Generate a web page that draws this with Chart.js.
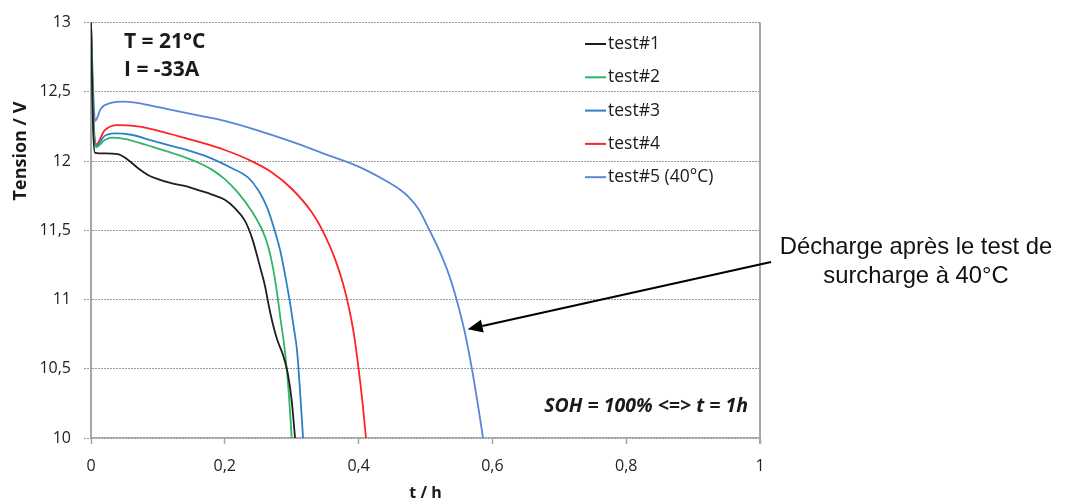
<!DOCTYPE html>
<html>
<head>
<meta charset="utf-8">
<script src="https://cdn.jsdelivr.net/npm/chart.js@4.4.0/dist/chart.umd.min.js"></script>
<style>
  html, body { margin: 0; padding: 0; background: #fff; }
</style>
</head>
<body>
<canvas id="chart" width="1070" height="504"></canvas>
<script>
// Discharge curves, t in hours, voltage in V
const t1 = [0, 0.003, 0.006, 0.02, 0.04, 0.055, 0.07, 0.085, 0.1, 0.12, 0.14, 0.16, 0.18, 0.2, 0.215, 0.23, 0.241, 0.253, 0.26, 0.266, 0.272, 0.279, 0.287, 0.294, 0.3, 0.305];
const v1 = [13.0, 12.25, 12.06, 12.055, 12.05, 12.01, 11.95, 11.9, 11.87, 11.84, 11.82, 11.79, 11.76, 11.72, 11.66, 11.57, 11.44, 11.23, 11.1, 10.95, 10.82, 10.7, 10.6, 10.47, 10.27, 10.0];

const t2 = [0, 0.003, 0.008, 0.02, 0.03, 0.05, 0.08, 0.1, 0.13, 0.16, 0.18, 0.2, 0.22, 0.24, 0.257, 0.265, 0.272, 0.278, 0.283, 0.29, 0.296, 0.3];
const v2 = [13.0, 12.35, 12.1, 12.15, 12.17, 12.16, 12.12, 12.09, 12.045, 11.99, 11.94, 11.87, 11.77, 11.64, 11.49, 11.38, 11.23, 11.05, 10.87, 10.62, 10.3, 10.0];

const t3 = [0, 0.003, 0.008, 0.02, 0.035, 0.06, 0.09, 0.12, 0.15, 0.18, 0.21, 0.235, 0.25, 0.262, 0.272, 0.283, 0.29, 0.297, 0.303, 0.308, 0.313, 0.317];
const v3 = [13.0, 12.35, 12.11, 12.18, 12.2, 12.19, 12.15, 12.11, 12.07, 12.02, 11.95, 11.88, 11.79, 11.68, 11.54, 11.35, 11.18, 10.99, 10.8, 10.63, 10.3, 10.0];

const t4 = [0, 0.003, 0.008, 0.02, 0.04, 0.07, 0.1, 0.13, 0.16, 0.2, 0.24, 0.27, 0.3, 0.33, 0.35, 0.365, 0.377, 0.386, 0.393, 0.4, 0.406, 0.411];
const v4 = [13.0, 12.4, 12.12, 12.22, 12.26, 12.25, 12.22, 12.18, 12.14, 12.08, 12.0, 11.92, 11.8, 11.63, 11.46, 11.29, 11.11, 10.93, 10.75, 10.5, 10.25, 10.0];

const t5 = [0, 0.003, 0.006, 0.015, 0.03, 0.05, 0.08, 0.12, 0.16, 0.2, 0.25, 0.3, 0.35, 0.4, 0.44, 0.46, 0.475, 0.49, 0.505, 0.52, 0.535, 0.547, 0.558, 0.569, 0.578, 0.586];
const v5 = [13.0, 12.55, 12.29, 12.38, 12.42, 12.43, 12.41, 12.37, 12.33, 12.29, 12.22, 12.14, 12.05, 11.96, 11.86, 11.8, 11.74, 11.65, 11.51, 11.36, 11.18, 10.99, 10.78, 10.51, 10.25, 10.0];

const seriesNames = ['test#1', 'test#2', 'test#3', 'test#4', 'test#5 (40°C)'];
const seriesColors = ['#1e1e1e', '#2fb566', '#2e80c6', '#ff2424', '#5b85d8'];

const xTicks = [0, 0.2, 0.4, 0.6, 0.8, 1];
const yTicks = [10, 10.5, 11, 11.5, 12, 12.5, 13];

const FONT = '"Open Sans", "Liberation Sans", sans-serif';

function toPoints(ts, vs) {
    return ts.map((t, i) => ({ x: t, y: vs[i] }));
}

const allT = [t1, t2, t3, t4, t5];
const allV = [v1, v2, v3, v4, v5];

const datasets = seriesNames.map((name, i) => ({
    label: name,
    data: toPoints(allT[i], allV[i]),
    borderColor: seriesColors[i],
    backgroundColor: seriesColors[i],
    borderWidth: 1.8,
    pointRadius: 0,
    showLine: true,
    cubicInterpolationMode: 'monotone'
}));

function commaFmt(v) {
    return String(Math.round(v * 10) / 10).replace('.', ',');
}

// Legend drawn inside the plot, plus the text notes and the arrow
const extras = {
    id: 'extras',
    afterDraw(chart) {
        const ctx = chart.ctx;
        const area = chart.chartArea;
        const xs = chart.scales.x, ys = chart.scales.y;
        ctx.save();

        // right frame
        ctx.strokeStyle = '#a6a6a6';
        ctx.lineWidth = 2;
        ctx.beginPath();
        ctx.moveTo(area.right, area.top);
        ctx.lineTo(area.right, area.bottom + 6);
        ctx.stroke();

        // legend
        ctx.font = '17.5px ' + FONT;
        ctx.textBaseline = 'middle';
        ctx.textAlign = 'left';
        chart.data.datasets.forEach((ds, i) => {
            const y = 44 + i * 33.3;
            ctx.strokeStyle = ds.borderColor;
            ctx.lineWidth = 2;
            ctx.beginPath();
            ctx.moveTo(585, y);
            ctx.lineTo(606, y);
            ctx.stroke();
            ctx.fillStyle = '#1a1a1a';
            ctx.fillText(ds.label, 608, y);
        });

        // conditions
        ctx.font = 'bold 21px ' + FONT;
        ctx.fillStyle = '#1a1a1a';
        ctx.fillText('T = 21°C', 124, 42);
        ctx.fillText('I = -33A', 124, 70);

        ctx.font = 'italic bold 19.5px ' + FONT;
        ctx.textAlign = 'right';
        ctx.fillText('SOH = 100% <=> t = 1h', 748, 406);

        // y axis title
        ctx.save();
        ctx.translate(21, 151);
        ctx.rotate(-Math.PI / 2);
        ctx.textAlign = 'center';
        ctx.font = 'bold 18px ' + FONT;
        ctx.fillText('Tension / V', 0, 0);
        ctx.restore();

        // note at the right
        ctx.font = '23.8px "Liberation Sans", Arial, sans-serif';
        ctx.textAlign = 'center';
        ctx.fillStyle = '#111';
        ctx.fillText('Décharge après le test de', 916, 247);
        ctx.fillText('surcharge à 40°C', 916, 276);

        // arrow to test#5
        const tipX = xs.getPixelForValue(0.563);
        const tipY = ys.getPixelForValue(10.785);
        const tailX = 771, tailY = 262;
        const ang = Math.atan2(tipY - tailY, tipX - tailX);
        const headLen = 15, headW = 6.5;
        const baseX = tipX - headLen * Math.cos(ang);
        const baseY = tipY - headLen * Math.sin(ang);
        ctx.strokeStyle = '#000';
        ctx.lineWidth = 2;
        ctx.beginPath();
        ctx.moveTo(tailX, tailY);
        ctx.lineTo(baseX, baseY);
        ctx.stroke();
        ctx.fillStyle = '#000';
        ctx.beginPath();
        ctx.moveTo(tipX, tipY);
        ctx.lineTo(baseX + headW * Math.sin(ang), baseY - headW * Math.cos(ang));
        ctx.lineTo(baseX - headW * Math.sin(ang), baseY + headW * Math.cos(ang));
        ctx.closePath();
        ctx.fill();

        ctx.restore();
    }
};

function initChart() {
    const ctx = document.getElementById('chart').getContext('2d');
    new Chart(ctx, {
        type: 'scatter',
        data: { datasets: datasets },
        options: {
            responsive: false,
            animation: false,
            devicePixelRatio: 1,
            layout: { padding: { left: 0, top: 20, right: 310, bottom: 0 } },
            plugins: {
                legend: { display: false },
                tooltip: { enabled: false }
            },
            scales: {
                x: {
                    type: 'linear',
                    min: 0,
                    max: 1,
                    afterFit: s => { s.height = 66; },
                    afterBuildTicks: s => { s.ticks = xTicks.map(v => ({ value: v })); },
                    ticks: {
                        callback: v => commaFmt(v),
                        color: '#222',
                        font: { family: FONT, size: 16 },
                        padding: 13,
                        maxRotation: 0
                    },
                    grid: {
                        drawOnChartArea: false,
                        drawTicks: true,
                        tickLength: 6,
                        tickColor: '#a6a6a6',
                        tickWidth: 1.5
                    },
                    border: { color: '#a6a6a6', width: 1.5 },
                    title: {
                        display: true,
                        text: 't / h',
                        color: '#1a1a1a',
                        font: { family: FONT, size: 16, weight: 'bold' },
                        padding: { top: 0, bottom: 1 }
                    }
                },
                y: {
                    type: 'linear',
                    min: 10,
                    max: 13,
                    afterFit: s => { s.width = 91; },
                    afterBuildTicks: s => { s.ticks = yTicks.map(v => ({ value: v })); },
                    ticks: {
                        callback: v => commaFmt(v),
                        color: '#222',
                        font: { family: FONT, size: 16 },
                        padding: 13
                    },
                    grid: {
                        color: '#9a9a9a',
                        lineWidth: 1,
                        tickLength: 7,
                        tickColor: '#9a9a9a',
                        tickBorderDash: [2, 1]
                    },
                    border: { color: '#a6a6a6', width: 2, dash: [2, 1] },
                    title: { display: false }
                }
            }
        },
        plugins: [extras]
    });
}

window.onload = initChart;
</script>
</body>
</html>
